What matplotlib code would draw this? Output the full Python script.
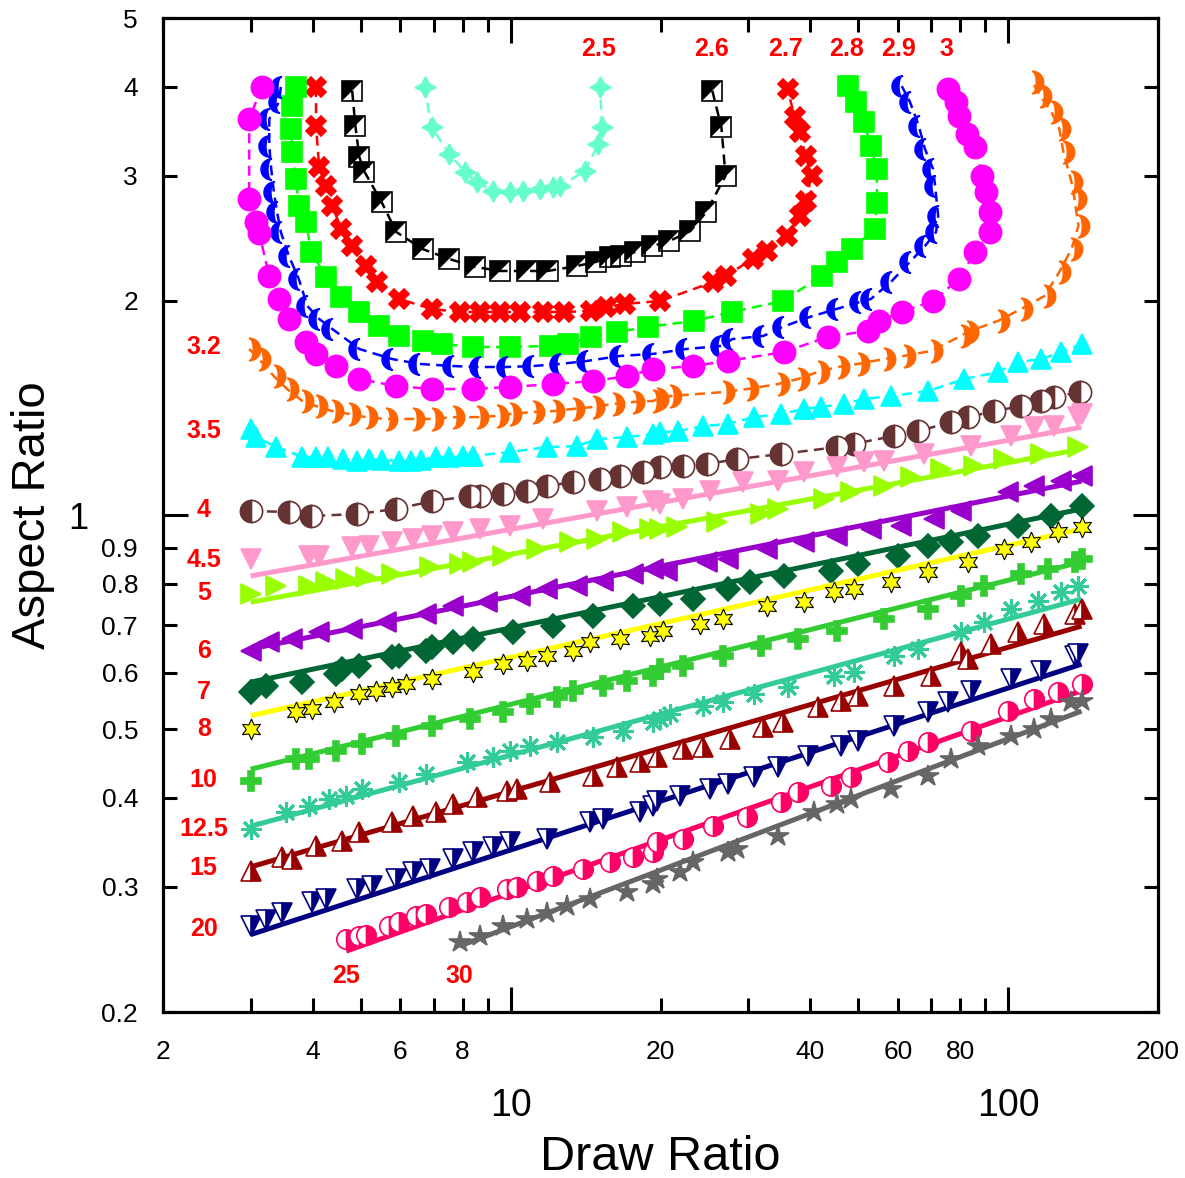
import numpy as np
import matplotlib.pyplot as plt
from matplotlib.path import Path
from matplotlib.ticker import FixedLocator, FixedFormatter

plt.rcParams['font.family'] = ['Liberation Sans', 'DejaVu Sans']

# draw ratio (dr) / aspect ratio (ar) for each curve
dr_2_5 = [6.71, 6.93, 7.53, 8.08, 8.54, 9.2, 9.95, 10.57, 11.44, 12.15, 12.55, 14.1, 14.98, 15.26, 15.12]
ar_2_5 = [4.0, 3.51, 3.22, 3.04, 2.94, 2.855, 2.846, 2.855, 2.874, 2.893, 2.9, 3.046, 3.325, 3.51, 4.0]

dr_2_6 = [4.8, 4.87, 4.96, 5.08, 5.5, 5.89, 6.65, 7.53, 8.46, 9.5, 10.77, 11.87, 13.59, 14.84, 15.84,
          16.67, 17.78, 19.24, 20.83, 22.96, 24.72, 27.02, 26.51, 25.42]
ar_2_6 = [3.95, 3.53, 3.19, 3.04, 2.755, 2.5, 2.366, 2.291, 2.234, 2.204, 2.204, 2.204, 2.24, 2.27, 2.306,
          2.314, 2.344, 2.389, 2.428, 2.508, 2.668, 3.0, 3.51, 3.95]

dr_2_7 = [4.06, 4.06, 4.12, 4.26, 4.38, 4.56, 4.8, 5.12, 5.39, 5.97, 6.93, 7.89, 8.66, 9.5, 10.42, 11.6,
          12.79, 14.5, 15.55, 16.98, 19.97, 25.55, 27.02, 30.62, 32.81, 35.84, 38.07, 39.14, 40.24, 39.14,
          38.07, 37.2, 36.0]
ar_2_7 = [4.0, 3.525, 3.087, 2.90, 2.72, 2.526, 2.389, 2.24, 2.127, 2.013, 1.949, 1.93, 1.93, 1.93, 1.93,
          1.93, 1.93, 1.936, 1.961, 1.981, 2.0, 2.127, 2.168, 2.291, 2.351, 2.469, 2.633, 2.764, 3.0, 3.198,
          3.457, 3.63, 3.975]

dr_2_8 = [3.70, 3.63, 3.62, 3.63, 3.70, 3.75, 3.88, 3.97, 4.26, 4.56, 4.96, 5.44, 5.97, 6.65, 7.29, 8.38,
          9.95, 11.98, 13.03, 14.5, 16.36, 18.89, 23.39, 27.9, 35.2, 42.17, 45.2, 48.5, 53.95, 54.45, 54.45,
          52.96, 51.27, 49.4, 47.6]
ar_2_8 = [4.0, 3.76, 3.49, 3.24, 2.97, 2.72, 2.58, 2.344, 2.161, 2.026, 1.93, 1.844, 1.786, 1.757, 1.74,
          1.723, 1.723, 1.729, 1.74, 1.78, 1.809, 1.839, 1.875, 1.93, 2.0, 2.168, 2.27, 2.366, 2.526, 2.746,
          3.067, 3.304, 3.571, 3.81, 4.01]

dr_2_9 = [3.45, 3.42, 3.27, 3.27, 3.30, 3.34, 3.39, 3.45, 3.58, 3.75, 3.90, 4.12, 4.38, 4.96, 5.78, 6.55,
          7.64, 8.66, 9.81, 11.07, 12.55, 14.23, 16.6, 19.33, 22.53, 26.51, 27.9, 32.2, 35.2, 39.9, 45.2,
          50.3, 52.96, 58.1, 63.45, 68.0, 71.6, 72.3, 71.3, 70.6, 68.0, 66.1, 63.45, 61.1]
ar_2_9 = [4.0, 3.81, 3.606, 3.304, 3.067, 2.846, 2.668, 2.5, 2.314, 2.147, 1.968, 1.887, 1.826, 1.712,
          1.657, 1.631, 1.62, 1.615, 1.615, 1.62, 1.631, 1.647, 1.674, 1.685, 1.712, 1.729, 1.768, 1.786,
          1.839, 1.899, 1.949, 1.993, 2.013, 2.127, 2.27, 2.389, 2.5, 2.633, 2.90, 3.067, 3.272, 3.525,
          3.81, 4.01]

dr_3 = [3.16, 2.98, 2.98, 3.08, 3.12, 3.27, 3.42, 3.58, 3.88, 4.06, 4.46, 4.96, 5.89, 6.96, 8.38, 9.95,
        12.15, 14.63, 17.13, 19.33, 23.27, 27.27, 35.35, 43.4, 52.2, 54.9, 61.1, 70.6, 79.6, 85.8, 91.9,
        91.9, 90.3, 88.6, 85.8, 82.7, 79.6, 78.6, 75.7]
ar_3 = [4.0, 3.606, 2.784, 2.58, 2.493, 2.168, 2.013, 1.887, 1.751, 1.685, 1.62, 1.553, 1.518, 1.504,
        1.504, 1.514, 1.528, 1.543, 1.568, 1.604, 1.62, 1.647, 1.695, 1.78, 1.815, 1.875, 1.93, 2.0, 2.147,
        2.344, 2.5, 2.668, 2.846, 3.0, 3.293, 3.435, 3.64, 3.81, 3.975]

dr_3_2 = [2.98, 3.12, 3.34, 3.55, 3.81, 4.06, 4.38, 4.74, 5.12, 5.62, 6.35, 6.96, 7.64, 8.54, 9.37, 9.95,
          11.07, 12.15, 13.34, 14.63, 16.06, 17.62, 19.33, 19.70, 20.92, 26.76, 29.9, 34.4, 37.73, 41.4,
          45.4, 49.85, 56.2, 61.7, 69.9, 80.4, 82.7, 95.4, 106.2, 118.2, 126.7, 134.0, 138.4, 135.9, 134.0,
          129.1, 126.7, 122.1, 116.0, 111.8]
ar_3_2 = [1.712, 1.657, 1.568, 1.504, 1.447, 1.423, 1.40, 1.387, 1.373, 1.365, 1.365, 1.365, 1.373, 1.373,
          1.378, 1.387, 1.396, 1.40, 1.41, 1.419, 1.433, 1.442, 1.447, 1.456, 1.47, 1.489, 1.504, 1.528,
          1.553, 1.589, 1.615, 1.631, 1.657, 1.674, 1.701, 1.786, 1.809, 1.875, 1.949, 2.032, 2.197, 2.366,
          2.55, 2.784, 2.94, 3.24, 3.49, 3.69, 3.886, 4.064]

dr_3_5 = [3.0, 3.08, 3.38, 3.81, 4.06, 4.3, 4.6, 4.90, 5.20, 5.5, 5.97, 6.3, 6.6, 7.09, 7.5, 8.0, 8.38,
          9.95, 11.82, 13.59, 14.91, 17.13, 19.33, 19.97, 21.71, 24.38, 27.27, 30.76, 34.86, 38.8, 41.98,
          46.7, 51.27, 58.1, 69.0, 81.5, 95.4, 104.8, 116.6, 127.9, 140.4]
ar_3_5 = [1.321, 1.287, 1.246, 1.207, 1.207, 1.205, 1.2, 1.191, 1.199, 1.195, 1.191, 1.191, 1.195, 1.207,
          1.205, 1.21, 1.211, 1.226, 1.246, 1.25, 1.279, 1.287, 1.30, 1.308, 1.312, 1.334, 1.343, 1.373,
          1.387, 1.41, 1.419, 1.433, 1.456, 1.47, 1.494, 1.553, 1.589, 1.641, 1.657, 1.695, 1.74]

dr_4 = [3.0, 3.58, 3.97, 4.90, 5.89, 6.96, 8.27, 8.66, 9.63, 10.77, 11.82, 13.34, 15.12, 16.6, 18.46,
        19.97, 22.23, 24.85, 28.56, 34.86, 45.2, 48.95, 58.9, 65.85, 76.8, 83.1, 93.7, 106.2, 116.6, 123.8,
        139.1]
ar_4 = [1.013, 1.01, 0.997, 1.003, 1.02, 1.046, 1.063, 1.063, 1.07, 1.081, 1.098, 1.113, 1.124, 1.135,
        1.15, 1.168, 1.172, 1.18, 1.199, 1.218, 1.246, 1.259, 1.292, 1.312, 1.351, 1.373, 1.40, 1.423,
        1.447, 1.466, 1.489]

dr_4_5 = [3.0, 3.93, 4.12, 4.8, 5.2, 5.78, 6.35, 6.96, 7.64, 8.66, 9.95, 11.6, 14.91, 17.13, 19.33, 19.97,
          22.23, 25.19, 29.36, 34.4, 38.8, 45.2, 51.27, 56.2, 67.7, 84.2, 101.4, 112.8, 123.8, 138.4, 140.4]
ar_4_5 = [0.867, 0.876, 0.876, 0.902, 0.905, 0.916, 0.925, 0.934, 0.946, 0.956, 0.965, 0.987, 1.013,
          1.026, 1.046, 1.036, 1.053, 1.081, 1.113, 1.116, 1.15, 1.168, 1.187, 1.191, 1.218, 1.25, 1.292,
          1.329, 1.334, 1.373, 1.387]

dr_5 = [3.0, 3.38, 3.93, 4.26, 4.67, 5.12, 5.78, 6.87, 7.89, 8.38, 9.63, 11.28, 13.15, 14.91, 16.82,
        19.06, 19.97, 21.61, 26.03, 31.77, 34.4, 42.56, 48.25, 56.2, 63.75, 73.3, 85.4, 98.1, 116.6, 138.4]
ar_5 = [0.774, 0.795, 0.795, 0.805, 0.813, 0.818, 0.826, 0.845, 0.853, 0.859, 0.876, 0.896, 0.916, 0.925,
        0.946, 0.956, 0.956, 0.962, 0.978, 1.003, 1.02, 1.053, 1.077, 1.098, 1.131, 1.161, 1.172, 1.199,
        1.218, 1.246]

dr_6 = [3.0, 3.27, 3.63, 4.12, 4.8, 5.62, 6.77, 7.64, 8.95, 10.42, 11.82, 13.59, 15.33, 17.62, 19.33,
        20.63, 24.85, 27.27, 32.81, 38.8, 45.2, 52.96, 60.85, 70.9, 80.4, 100, 112.8, 127.9, 140.4]
ar_6 = [0.644, 0.663, 0.669, 0.684, 0.691, 0.707, 0.726, 0.745, 0.754, 0.769, 0.787, 0.795, 0.808, 0.826,
        0.839, 0.834, 0.859, 0.867, 0.896, 0.916, 0.934, 0.956, 0.965, 0.987, 1.013, 1.077, 1.098, 1.116,
        1.135]

dr_7 = [3.0, 3.22, 3.81, 4.46, 4.58, 4.96, 5.78, 5.97, 6.77, 6.96, 7.64, 8.38, 10.09, 12.15, 14.63,
        17.62, 19.97, 23.27, 27.27, 30.33, 35.35, 43.98, 49.85, 60.0, 69.0, 76.8, 87.0, 104.8, 122.1, 140.4]
ar_7 = [0.564, 0.575, 0.582, 0.598, 0.607, 0.613, 0.631, 0.633, 0.644, 0.652, 0.663, 0.669, 0.684, 0.698,
        0.721, 0.745, 0.75, 0.762, 0.787, 0.805, 0.821, 0.834, 0.853, 0.876, 0.905, 0.916, 0.934, 0.965,
        0.997, 1.03]

dr_8 = [3.0, 3.70, 3.99, 4.42, 4.96, 5.37, 5.78, 6.17, 6.96, 8.38, 9.63, 10.77, 11.82, 13.34, 14.43,
        16.6, 19.06, 20.25, 24.04, 26.76, 32.81, 38.8, 44.6, 48.95, 58.1, 69.0, 83.1, 98.1, 111.3, 126.1,
        140.4]
ar_8 = [0.5, 0.528, 0.533, 0.546, 0.56, 0.566, 0.573, 0.578, 0.588, 0.601, 0.617, 0.623, 0.633, 0.644,
        0.663, 0.669, 0.676, 0.687, 0.703, 0.714, 0.745, 0.754, 0.779, 0.787, 0.805, 0.831, 0.859, 0.896,
        0.916, 0.946, 0.962]

dr_10 = [3.0, 3.70, 3.93, 4.46, 5.03, 5.89, 6.96, 8.27, 9.63, 10.92, 12.38, 13.34, 15.33, 17.13, 19.33,
         19.97, 22.23, 26.76, 31.77, 37.73, 45.2, 56.2, 69.0, 80.4, 89.5, 106.2, 120.4, 135.9, 140.4]
ar_10 = [0.423, 0.454, 0.454, 0.466, 0.476, 0.489, 0.505, 0.517, 0.528, 0.542, 0.555, 0.566, 0.575,
         0.584, 0.594, 0.607, 0.613, 0.633, 0.654, 0.669, 0.687, 0.714, 0.738, 0.769, 0.795, 0.826, 0.839,
         0.859, 0.867]

dr_12_5 = [3.0, 3.54, 3.93, 4.32, 4.67, 5.03, 5.97, 6.77, 8.15, 9.2, 9.95, 10.92, 12.38, 14.63, 16.82,
           19.33, 19.97, 20.92, 24.38, 26.76, 30.76, 36.02, 44.6, 48.95, 58.9, 65.85, 80.4, 89.5, 101.4,
           114.9, 127.9, 138.4]
ar_12_5 = [0.362, 0.382, 0.39, 0.399, 0.403, 0.412, 0.421, 0.432, 0.449, 0.457, 0.466, 0.473, 0.479,
           0.487, 0.497, 0.511, 0.517, 0.525, 0.539, 0.546, 0.56, 0.573, 0.594, 0.601, 0.633, 0.648, 0.684,
           0.707, 0.738, 0.757, 0.779, 0.795]

dr_15 = [3.0, 3.47, 3.63, 4.06, 4.58, 4.96, 5.78, 6.35, 7.09, 7.64, 8.54, 9.81, 10.28, 11.98, 14.63,
         16.36, 18.2, 19.7, 22.23, 24.38, 27.64, 32.2, 35.2, 41.4, 46.05, 49.85, 58.9, 69.9, 80.4, 83.1,
         92.4, 104.8, 118.2, 135.9, 140.4]
ar_15 = [0.316, 0.33, 0.328, 0.342, 0.348, 0.358, 0.37, 0.377, 0.382, 0.392, 0.401, 0.409, 0.412, 0.421,
         0.43, 0.442, 0.449, 0.457, 0.469, 0.472, 0.484, 0.503, 0.511, 0.537, 0.548, 0.557, 0.575, 0.594,
         0.642, 0.627, 0.659, 0.684, 0.703, 0.726, 0.738]

dr_20 = [3.0, 3.22, 3.47, 3.99, 4.26, 4.9, 5.27, 5.89, 6.35, 6.87, 7.64, 8.38, 9.2, 9.95, 11.82, 14.43,
         15.33, 18.2, 19.33, 19.7, 21.91, 25.19, 27.27, 30.76, 34.4, 39.53, 46.05, 49.85, 58.9, 69.0, 75.7,
         84.2, 101.4, 116.6, 135.9, 138.4]
ar_20 = [0.264, 0.269, 0.276, 0.286, 0.288, 0.298, 0.301, 0.308, 0.315, 0.318, 0.328, 0.336, 0.341,
         0.347, 0.35, 0.37, 0.374, 0.382, 0.39, 0.396, 0.403, 0.412, 0.418, 0.428, 0.442, 0.458, 0.473,
         0.481, 0.505, 0.528, 0.546, 0.566, 0.588, 0.603, 0.633, 0.638]

dr_25 = [4.67, 4.96, 5.12, 5.7, 5.97, 6.46, 6.77, 7.53, 8.15, 8.66, 9.81, 10.28, 11.28, 12.15, 13.97,
         15.84, 17.62, 19.33, 19.7, 22.23, 25.55, 29.9, 34.86, 37.73, 43.98, 48.25, 57.3, 62.9, 69.0, 84.2,
         100, 112.8, 126.1, 140.4]
ar_25 = [0.253, 0.256, 0.257, 0.264, 0.268, 0.273, 0.275, 0.281, 0.286, 0.29, 0.298, 0.30, 0.306, 0.311,
         0.318, 0.325, 0.33, 0.336, 0.347, 0.35, 0.365, 0.376, 0.395, 0.408, 0.416, 0.428, 0.449, 0.466,
         0.479, 0.497, 0.53, 0.551, 0.564, 0.578]

dr_30 = [7.89, 8.66, 9.63, 10.77, 11.82, 12.97, 14.43, 17.13, 19.33, 19.7, 21.91, 23.27, 27.27, 28.56,
         34.4, 40.62, 45.2, 48.25, 58.1, 69.0, 76.8, 87.0, 101.4, 112.8, 122.1, 134.0, 140.4]
ar_30 = [0.251, 0.256, 0.264, 0.27, 0.276, 0.282, 0.288, 0.295, 0.303, 0.308, 0.315, 0.325, 0.336, 0.339,
         0.354, 0.382, 0.392, 0.399, 0.412, 0.43, 0.454, 0.473, 0.489, 0.5, 0.517, 0.546, 0.548]

# power-law fits (end points of the straight lines in log-log)
fit_dr = [3.0, 140.4]
fit_4_5 = [0.821, 1.329]
fit_5 = [0.754, 1.238]
fit_6 = [0.648, 1.116]
fit_7 = [0.582, 1.02]
fit_8 = [0.522, 0.956]
fit_10 = [0.439, 0.859]
fit_12_5 = [0.365, 0.762]
fit_15 = [0.32, 0.698]
fit_20 = [0.257, 0.617]
fit_dr_25 = [4.67, 140.4]
fit_25 = [0.2436, 0.566]
fit_dr_30 = [7.89, 140.4]
fit_30 = [0.2476, 0.53]

# curve labels and where they sit
curve_labels = ['2.5', '2.6', '2.7', '2.8', '2.9', '3', '3.2', '3.5', '4', '4.5', '5', '6', '7', '8',
                '10', '12.5', '15', '20', '25', '30']
label_dr = [15.04, 25.3, 35.7, 47.4, 60.3, 75.0] + [2.415] * 12 + [4.67, 7.89]
label_ar = [4.52] * 6 + [1.722, 1.313, 1.016, 0.864, 0.777, 0.644, 0.564, 0.5, 0.424, 0.362, 0.319,
                         0.262, 0.2247, 0.2247]


def crescent(flip=False):
    t = np.linspace(-np.pi / 2, np.pi / 2, 25)
    outer = np.column_stack([-np.cos(t), np.sin(t)])
    inner = np.column_stack([-0.35 * np.cos(t[::-1]), np.sin(t[::-1])])
    v = np.vstack([outer, inner, outer[:1]])
    if flip:
        v[:, 0] *= -1
    return Path(v, closed=True)


half_tri = Path([(-1, -1), (-1, 1), (1, 1), (-1, -1)], closed=True)

fig = plt.figure(figsize=(11.85, 11.78), dpi=100)
ax = fig.add_axes([0.1376, 0.1409, 0.8396, 0.8438])
ax.set_xscale('log')
ax.set_yscale('log')

dash = (0, (4, 2.5))

# U-shaped curves, joined with dashed lines
upper = [
    (dr_2_5, ar_2_5, '#66FFCC', (4, 1, 0), 15, 'full'),
    (dr_2_6, ar_2_6, 'black', 's', 14, 'none'),
    (dr_2_7, ar_2_7, '#FF0000', 'X', 14, 'full'),
    (dr_2_8, ar_2_8, '#00FF00', 's', 15, 'full'),
    (dr_2_9, ar_2_9, '#0000FF', crescent(), 15, 'full'),
    (dr_3, ar_3, '#FF00FF', 'o', 16, 'full'),
    (dr_3_2, ar_3_2, '#FF6600', crescent(True), 16, 'full'),
    (dr_3_5, ar_3_5, '#00FFFF', '^', 14, 'full'),
    (dr_4, ar_4, '#663333', 'o', 16, 'left'),
]
for x, y, c, m, ms, fs in upper:
    ax.plot(x, y, ls=dash, lw=1.8, color=c, marker=m, ms=ms, mfc=c if fs != 'none' else 'white',
            mec=c, fillstyle=fs, markerfacecoloralt='white', mew=1.2)
ax.plot(dr_2_6, ar_2_6, ls='none', marker=half_tri, ms=14, color='black', mew=0)

# straight-line series: fitted line plus scattered points
lower = [
    (dr_4_5, ar_4_5, fit_dr, fit_4_5, '#FF99CC', 'v', 14, 'full'),
    (dr_5, ar_5, fit_dr, fit_5, '#99FF00', '>', 14, 'full'),
    (dr_6, ar_6, fit_dr, fit_6, '#9900CC', '<', 14, 'full'),
    (dr_7, ar_7, fit_dr, fit_7, '#006633', 'D', 12, 'full'),
    (dr_8, ar_8, fit_dr, fit_8, '#FFFF00', (6, 1, 0), 15, 'full'),
    (dr_10, ar_10, fit_dr, fit_10, '#33CC33', 'P', 15, 'full'),
    (dr_12_5, ar_12_5, fit_dr, fit_12_5, '#33CC99', (8, 2, 0), 15, 'full'),
    (dr_15, ar_15, fit_dr, fit_15, '#990000', '^', 14, 'right'),
    (dr_20, ar_20, fit_dr, fit_20, '#000080', 'v', 14, 'right'),
    (dr_25, ar_25, fit_dr_25, fit_25, '#FF0066', 'o', 14, 'right'),
    (dr_30, ar_30, fit_dr_30, fit_30, '#666666', '*', 16, 'full'),
]
for x, y, fx, fy, c, m, ms, fs in lower:
    ax.plot(fx, fy, '-', lw=3.6, color=c, solid_capstyle='butt')
    edge = 'black' if c == '#FFFF00' else c
    mew = 0.8 if c == '#FFFF00' else (2.2 if m == (8, 2, 0) else 1.2)
    ax.plot(x, y, ls='none', marker=m, ms=ms, mfc=c, mec=edge, mew=mew,
            fillstyle=fs, markerfacecoloralt='white')

for s, x, y in zip(curve_labels, label_dr, label_ar):
    ax.text(x, y, s, color='red', fontsize=18, fontweight='bold', ha='center', va='center')

ax.set_xlim(2, 200)
ax.set_ylim(0.2, 5)

x_minor = [2, 3, 4, 5, 6, 7, 8, 9, 20, 30, 40, 50, 60, 70, 80, 90, 200]
x_minor_lab = ['2', '', '4', '', '6', '', '8', '', '20', '', '40', '', '60', '', '80', '', '200']
y_minor = [0.2, 0.3, 0.4, 0.5, 0.6, 0.7, 0.8, 0.9, 2, 3, 4, 5]
y_minor_lab = ['0.2', '0.3', '0.4', '0.5', '0.6', '0.7', '0.8', '0.9', '2', '3', '4', '5']

ax.xaxis.set_major_locator(FixedLocator([10, 100]))
ax.xaxis.set_major_formatter(FixedFormatter(['10', '100']))
ax.xaxis.set_minor_locator(FixedLocator(x_minor))
ax.xaxis.set_minor_formatter(FixedFormatter(x_minor_lab))
ax.yaxis.set_major_locator(FixedLocator([1]))
ax.yaxis.set_major_formatter(FixedFormatter(['1']))
ax.yaxis.set_minor_locator(FixedLocator(y_minor))
ax.yaxis.set_minor_formatter(FixedFormatter(y_minor_lab))

ax.tick_params(which='both', direction='in', top=True, right=True, width=2.2, color='black')
ax.tick_params(which='major', length=18)
ax.tick_params(which='minor', length=10)
ax.tick_params(axis='x', which='minor', labelsize=19, pad=20)
ax.tick_params(axis='x', which='major', labelsize=27, pad=55)
ax.tick_params(axis='y', which='minor', labelsize=19, pad=18)
ax.tick_params(axis='y', which='major', labelsize=26, pad=54)

for sp in ax.spines.values():
    sp.set_linewidth(2.3)

ax.set_xlabel('Draw Ratio', fontsize=35)
ax.xaxis.set_label_coords(0.5, -0.146)
ax.xaxis.label.set_va('center')
ax.set_ylabel('Aspect Ratio', fontsize=34)
ax.yaxis.set_label_coords(-0.131, 0.5)
ax.yaxis.label.set_va('center')

fig.savefig('out.png', dpi=100)
